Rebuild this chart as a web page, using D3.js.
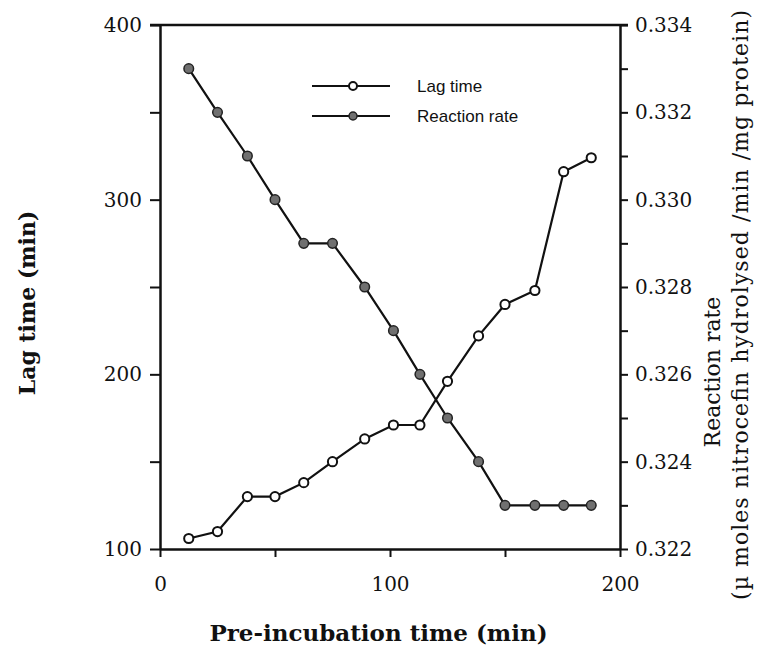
<!DOCTYPE html>
<html>
<head>
<meta charset="utf-8">
<script src="https://cdn.jsdelivr.net/npm/d3@7"></script>
<style>
  body { margin: 0; background: #fff; }
</style>
</head>
<body>
<div id="chart"></div>
<script>
// data
const preTime = [12.5, 25, 38, 50, 62.5, 75, 89, 101.5, 113, 125, 138.5, 150, 163, 175.5, 187.5];
const lagTime = [106, 110, 130, 130, 138, 150, 163, 171, 171, 196, 222, 240, 248, 316, 324];
const reactionRate = [0.333, 0.332, 0.331, 0.330, 0.329, 0.329, 0.328, 0.327, 0.326, 0.325, 0.324, 0.323, 0.323, 0.323, 0.323];

const xTicks = [0, 50, 100, 150, 200];
const xLabels = ["0", "", "100", "", "200"];
const lagTicks = [100, 150, 200, 250, 300, 350, 400];
const lagLabels = ["100", "", "200", "", "300", "", "400"];
const rateTicks = [0.322, 0.323, 0.324, 0.325, 0.326, 0.327, 0.328, 0.329, 0.330, 0.331, 0.332, 0.333, 0.334];
const rateLabels = ["0.322", "", "0.324", "", "0.326", "", "0.328", "", "0.330", "", "0.332", "", "0.334"];
const seriesNames = ["Lag time", "Reaction rate"];

const margin = { top: 25, right: 142, bottom: 103, left: 160 };
const width = 762 - margin.left - margin.right;
const height = 652 - margin.top - margin.bottom;

const svg = d3.select("#chart")
    .append("svg")
    .attr("width", 762)
    .attr("height", 652)
    .append("g")
    .attr("transform", `translate(${margin.left},${margin.top})`);

const x = d3.scaleLinear().domain([0, 200]).range([0, width]);
const yLag = d3.scaleLinear().domain([100, 400]).range([height, 0]);
const yRate = d3.scaleLinear().domain([0.322, 0.334]).range([height, 0]);

const serif = "'DejaVu Serif', serif";

function styleAxis(g) {
    g.select(".domain").attr("stroke", "#111").attr("stroke-width", 2.5);
    g.selectAll(".tick line").attr("stroke", "#111").attr("stroke-width", 2);
    g.selectAll(".tick text")
        .attr("fill", "#111")
        .style("font-family", serif)
        .style("font-size", "20px");
}

// top frame line, running over the outer ticks like the original
svg.append("line")
    .attr("x1", x(0) - 10).attr("x2", x(200) + 8)
    .attr("y1", yLag(400)).attr("y2", yLag(400))
    .attr("stroke", "#111").attr("stroke-width", 2.5);

svg.append("g")
    .attr("transform", `translate(0,${height})`)
    .call(d3.axisBottom(x).tickValues(xTicks).tickSize(8).tickSizeOuter(0).tickPadding(20)
        .tickFormat((d, i) => xLabels[i]))
    .call(styleAxis);

svg.append("g")
    .call(d3.axisLeft(yLag).tickValues(lagTicks).tickSize(10).tickSizeOuter(0).tickPadding(8)
        .tickFormat((d, i) => lagLabels[i]))
    .call(styleAxis);

svg.append("g")
    .attr("transform", `translate(${width},0)`)
    .call(d3.axisRight(yRate).tickValues(rateTicks).tickSize(8).tickSizeOuter(0).tickPadding(7)
        .tickFormat((d, i) => rateLabels[i]))
    .call(styleAxis);

// series
const lagPts = preTime.map((t, i) => [t, lagTime[i]]);
const ratePts = preTime.map((t, i) => [t, reactionRate[i]]);

svg.append("path")
    .datum(ratePts)
    .attr("fill", "none")
    .attr("stroke", "#111")
    .attr("stroke-width", 2.2)
    .attr("d", d3.line().x(d => x(d[0])).y(d => yRate(d[1])));

svg.append("path")
    .datum(lagPts)
    .attr("fill", "none")
    .attr("stroke", "#111")
    .attr("stroke-width", 2.2)
    .attr("d", d3.line().x(d => x(d[0])).y(d => yLag(d[1])));

svg.selectAll(".rate")
    .data(ratePts)
    .enter()
    .append("circle")
    .attr("class", "rate")
    .attr("cx", d => x(d[0]))
    .attr("cy", d => yRate(d[1]))
    .attr("r", 4.8)
    .attr("fill", "#707070")
    .attr("stroke", "#222")
    .attr("stroke-width", 1.5);

svg.selectAll(".lag")
    .data(lagPts)
    .enter()
    .append("circle")
    .attr("class", "lag")
    .attr("cx", d => x(d[0]))
    .attr("cy", d => yLag(d[1]))
    .attr("r", 4.6)
    .attr("fill", "#fff")
    .attr("stroke", "#111")
    .attr("stroke-width", 2);

// legend
const legend = svg.append("g")
    .attr("transform", `translate(${312 - margin.left},${86 - margin.top})`);

seriesNames.forEach((name, i) => {
    const row = legend.append("g").attr("transform", `translate(0,${i * 30})`);
    row.append("line")
        .attr("x1", 0).attr("x2", 78)
        .attr("stroke", "#111").attr("stroke-width", 2);
    row.append("circle")
        .attr("cx", 41).attr("r", 4)
        .attr("fill", i === 0 ? "#fff" : "#707070")
        .attr("stroke", i === 0 ? "#111" : "#222")
        .attr("stroke-width", i === 0 ? 2 : 1.5);
    row.append("text")
        .attr("x", 105)
        .attr("dy", "0.35em")
        .style("font-family", "'Liberation Sans', Arial, sans-serif")
        .style("font-size", "17px")
        .attr("fill", "#111")
        .text(name);
});

// axis titles
svg.append("text")
    .attr("transform", `translate(${27 - margin.left},${303 - margin.top}) rotate(-90)`)
    .attr("text-anchor", "middle")
    .attr("dy", "0.35em")
    .style("font-family", serif)
    .style("font-weight", "bold")
    .style("font-size", "22px")
    .attr("fill", "#111")
    .text("Lag time (min)");

svg.append("text")
    .attr("x", x(95))
    .attr("y", 641 - margin.top)
    .attr("text-anchor", "middle")
    .style("font-family", serif)
    .style("font-weight", "bold")
    .style("font-size", "23px")
    .attr("fill", "#111")
    .text("Pre-incubation time (min)");

svg.append("text")
    .attr("transform", `translate(${712 - margin.left},${372 - margin.top}) rotate(-90)`)
    .attr("text-anchor", "middle")
    .attr("dy", "0.35em")
    .style("font-family", serif)
    .style("font-size", "22px")
    .attr("fill", "#111")
    .text("Reaction rate");

svg.append("text")
    .attr("transform", `translate(${740 - margin.left},${305 - margin.top}) rotate(-90)`)
    .attr("text-anchor", "middle")
    .attr("dy", "0.35em")
    .attr("textLength", 590)
    .attr("lengthAdjust", "spacing")
    .style("font-family", serif)
    .style("font-size", "22px")
    .attr("fill", "#111")
    .text("(\u00b5 moles nitrocefin hydrolysed /min /mg protein)");
</script>
</body>
</html>
